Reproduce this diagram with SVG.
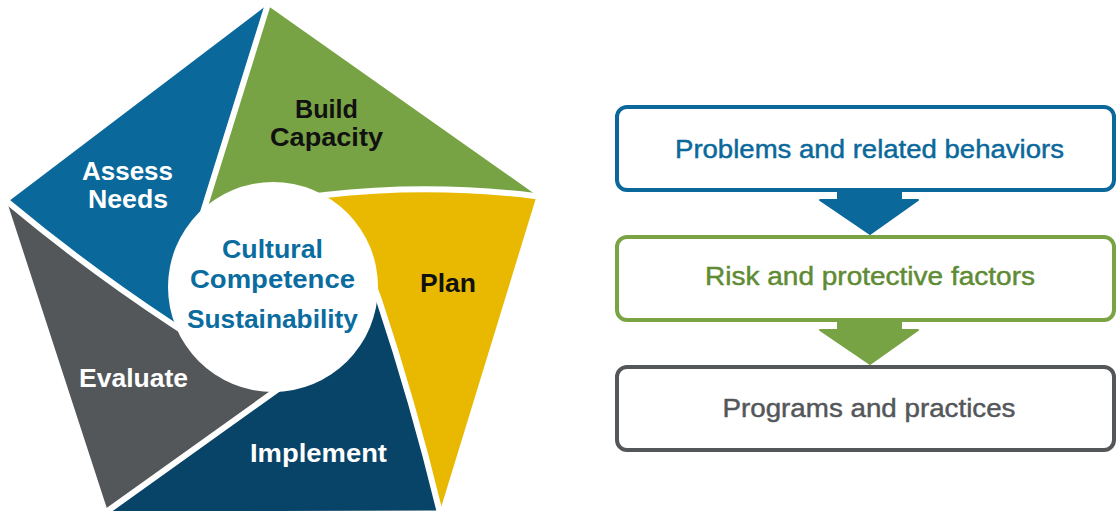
<svg xmlns="http://www.w3.org/2000/svg" width="1116" height="511" viewBox="0 0 1116 511">
  <style>
    .seg { stroke-width: 3; stroke-linejoin: round; }
    .gap { fill: none; stroke: #ffffff; stroke-width: 6; stroke-linejoin: round; }
    .lbl { font-family: "Liberation Sans", Arial, Helvetica, sans-serif; font-weight: bold; font-size: 25px; text-anchor: middle; }
    .box { fill: #ffffff; stroke-width: 4; }
    .btxt { font-family: "Liberation Sans", Arial, Helvetica, sans-serif; font-size: 25px; text-anchor: middle; stroke-width: 0.45; }
  </style>

  <!-- Pentagon wheel: five pinwheel segments around a central circle -->
  <g id="assess-needs">
    <path class="seg" fill="#0a689b" stroke="#0a689b" d="M 9,203 L 267,7 L 200,222 L 273,287 L 189,335 L 172,324 Q 87,268 9,203 Z"/>
    <text class="lbl" fill="#ffffff" x="127.5" y="180" textLength="91" lengthAdjust="spacingAndGlyphs">Assess</text>
    <text class="lbl" fill="#ffffff" x="128" y="208" textLength="80" lengthAdjust="spacingAndGlyphs">Needs</text>
  </g>
  <g id="build-capacity">
    <path class="seg" fill="#78a345" stroke="#78a345" d="M 267,7 L 535,196 Q 429,183 325,195 L 300,198 L 273,287 L 200,222 Z"/>
    <text class="lbl" fill="#111111" x="326.5" y="118" textLength="63" lengthAdjust="spacingAndGlyphs">Build</text>
    <text class="lbl" fill="#111111" x="326.5" y="146" textLength="113" lengthAdjust="spacingAndGlyphs">Capacity</text>
  </g>
  <g id="plan">
    <path class="seg" fill="#e8b900" stroke="#e8b900" d="M 535,196 L 439,509 Q 413,402 379,300 L 368,270 L 273,287 L 300,198 L 325,195 Q 429,183 535,196 Z"/>
    <text class="lbl" fill="#111111" x="448" y="292" textLength="56" lengthAdjust="spacingAndGlyphs">Plan</text>
  </g>
  <g id="implement">
    <path class="seg" fill="#084368" stroke="#084368" d="M 439,509 L 109,510 L 288,382 L 273,287 L 368,270 L 379,300 Q 413,402 439,509 Z"/>
    <text class="lbl" fill="#ffffff" x="318.5" y="462" textLength="137" lengthAdjust="spacingAndGlyphs">Implement</text>
  </g>
  <g id="evaluate">
    <path class="seg" fill="#54575a" stroke="#54575a" d="M 109,510 L 9,203 Q 87,268 172,324 L 189,335 L 273,287 L 288,382 Z"/>
    <text class="lbl" fill="#ffffff" x="133.5" y="387" textLength="109" lengthAdjust="spacingAndGlyphs">Evaluate</text>
  </g>

  <!-- White separations between the segments -->
  <g id="wheel-gaps">
    <path class="gap" d="M 270,-3 L 267,7 Q 238,100 200,222"/>
    <path class="gap" d="M 545,197 L 535,196 Q 429,183 325,195 L 300,198"/>
    <path class="gap" d="M 441,519 L 439,509 Q 413,402 379,300 L 368,270"/>
    <path class="gap" d="M 101,516 L 109,510 L 288,382"/>
    <path class="gap" d="M 0,197 L 9,203 Q 87,268 172,324 L 189,335"/>
  </g>

  <!-- Hub -->
  <g id="hub">
    <circle cx="273" cy="287" r="105" fill="#ffffff"/>
    <text class="lbl" fill="#0a6c9f" x="272.5" y="258" textLength="101" lengthAdjust="spacingAndGlyphs">Cultural</text>
    <text class="lbl" fill="#0a6c9f" x="272.5" y="288" textLength="165" lengthAdjust="spacingAndGlyphs">Competence</text>
    <text class="lbl" fill="#0a6c9f" x="272.5" y="328" textLength="171" lengthAdjust="spacingAndGlyphs">Sustainability</text>
  </g>

  <!-- Flow boxes -->
  <g id="problems">
    <rect class="box" stroke="#0a689b" x="617" y="107" width="497" height="83" rx="10"/>
    <text class="btxt" fill="#0a689b" stroke="#0a689b" x="869.5" y="158" textLength="389" lengthAdjust="spacingAndGlyphs">Problems and related behaviors</text>
  </g>
  <g id="factors">
    <rect class="box" stroke="#7aa443" x="617" y="237" width="497" height="83" rx="10"/>
    <text class="btxt" fill="#5e8b33" stroke="#5e8b33" x="870" y="285" textLength="330" lengthAdjust="spacingAndGlyphs">Risk and protective factors</text>
  </g>
  <g id="programs">
    <rect class="box" stroke="#54575a" x="617" y="367" width="497" height="83" rx="10"/>
    <text class="btxt" fill="#54575a" stroke="#54575a" x="869" y="417" textLength="293" lengthAdjust="spacingAndGlyphs">Programs and practices</text>
  </g>

  <!-- Down arrows between boxes -->
  <g id="connectors" stroke-linejoin="round" stroke-width="2">
    <path fill="#0a689b" stroke="#0a689b" d="M 838,191 L 901,191 L 901,200 L 918,200 L 870,234 L 820,200 L 838,200 Z"/>
    <path fill="#78a345" stroke="#78a345" d="M 838,321 L 901,321 L 901,330 L 918,330 L 870,364 L 820,330 L 838,330 Z"/>
  </g>
</svg>
